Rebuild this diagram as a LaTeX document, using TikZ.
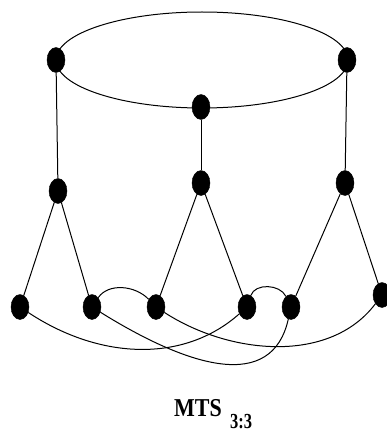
\documentclass[tikz,border=0pt]{standalone}
\usepackage{fontspec}
\setmainfont{Liberation Serif}
\usetikzlibrary{shapes.geometric}
\begin{document}
\begin{tikzpicture}[x=1pt,y=-1pt,
  vtx/.style={ellipse,fill=black,draw=black,inner sep=0pt,minimum width=18pt,minimum height=25pt},
  edge/.style={line width=1pt}]
\useasboundingbox (0,0) rectangle (387,433);
% top ring
\draw[edge] (202,60) ellipse [x radius=146, y radius=48];
\node[vtx] (t1) at (56,60) {};
\node[vtx] (t2) at (201,107) {};
\node[vtx] (t3) at (347,60) {};
% middle
\node[vtx] (m1) at (58,191) {};
\node[vtx] (m2) at (201,183) {};
\node[vtx] (m3) at (345,183) {};
% bottom
\node[vtx] (b1) at (20,307) {};
\node[vtx] (b2) at (92,307) {};
\node[vtx] (b3) at (156,307) {};
\node[vtx] (b4) at (247,307) {};
\node[vtx] (b5) at (291,307) {};
\node[vtx] (b6) at (382,295) {};
% verticals
\draw[edge] (t1) -- (m1);
\draw[edge] (t2) -- (m2);
\draw[edge] (t3) -- (m3);
% branches
\draw[edge] (m1) -- (b1);
\draw[edge] (m1) -- (b2);
\draw[edge] (m2) -- (b3);
\draw[edge] (m2) -- (b4);
\draw[edge] (m3) -- (b5);
\draw[edge] (m3) -- (b6);
% crossing curves
\draw[edge] (b1) .. controls (100,360) and (184,363) .. (b4);
\draw[edge] (b2) .. controls (190,368) and (272,392) .. (b5);
\draw[edge] (b3) .. controls (230,355) and (330,364) .. (b6);
\draw[edge] (b2) .. controls (108,283) and (135,285) .. (b3);
\draw[edge] (b4) .. controls (255,283) and (280,284) .. (b5);
% label
\node[font=\bfseries\fontsize{22}{24}\selectfont, inner sep=0pt, anchor=base west] (lbl) at (174,416) {\scalebox{1}[1.17]{MTS}};
\node[font=\bfseries\fontsize{16.5}{18}\selectfont, inner sep=0pt, anchor=base west] (sub) at (230,428) {\scalebox{1}[1.3]{3:3}};
\end{tikzpicture}
\end{document}
